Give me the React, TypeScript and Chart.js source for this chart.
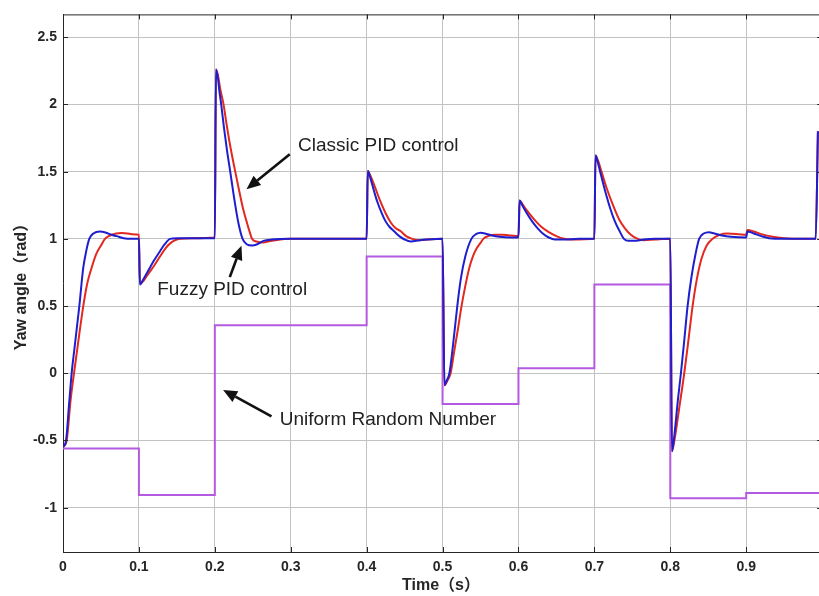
import React, { useEffect, useRef } from 'react';
import { Chart, registerables } from 'chart.js';

Chart.register(...registerables);

// ---- Data ----
const fuzzyPID: [number, number][] = [
  [0, -0.55], [0.004, -0.5], [0.008, -0.23], [0.0114, 0.0], [0.015, 0.18], [0.0215, 0.5], [0.0267, 0.785],
  [0.031, 0.92], [0.0346, 1.0], [0.04, 1.04], [0.0487, 1.055], [0.057, 1.045], [0.064, 1.03], [0.0707, 1.02],
  [0.08, 1.005], [0.09, 1.0], [0.1, 1.0],
  [0.1013, 0.66], [0.105, 0.69], [0.11, 0.74], [0.115, 0.79], [0.12, 0.84], [0.128, 0.91], [0.134, 0.96],
  [0.141, 1.0], [0.15, 1.005], [0.2, 1.005],
  [0.2015, 2.26], [0.204, 2.2], [0.206, 2.1], [0.2084, 2.0], [0.212, 1.83], [0.216, 1.66], [0.2203, 1.5],
  [0.225, 1.32], [0.231, 1.12], [0.2366, 1.0], [0.242, 0.96], [0.249, 0.95], [0.256, 0.96], [0.264, 0.985],
  [0.275, 0.995], [0.3, 1.0], [0.4, 1.0],
  [0.4015, 1.505], [0.405, 1.45], [0.41, 1.35], [0.4138, 1.28], [0.42, 1.19], [0.425, 1.13], [0.43, 1.09],
  [0.4358, 1.058], [0.443, 1.02], [0.45, 0.995], [0.458, 0.98], [0.47, 0.99], [0.48, 0.995], [0.5, 1.0],
  [0.5025, -0.09], [0.505, -0.06], [0.509, 0.0], [0.514, 0.22], [0.5194, 0.5], [0.524, 0.7], [0.53, 0.87],
  [0.538, 1.0], [0.544, 1.035], [0.55, 1.045], [0.556, 1.04], [0.565, 1.025], [0.575, 1.015], [0.59, 1.01],
  [0.6, 1.01],
  [0.6015, 1.285], [0.605, 1.25], [0.61, 1.2], [0.618, 1.13], [0.625, 1.08], [0.632, 1.04], [0.64, 1.01],
  [0.648, 0.995], [0.66, 0.995], [0.68, 1.0], [0.7, 1.0],
  [0.7015, 1.62], [0.704, 1.58], [0.7076, 1.5], [0.714, 1.36], [0.7207, 1.23], [0.727, 1.13], [0.733, 1.06],
  [0.739, 1.0], [0.745, 0.985], [0.752, 0.985], [0.765, 0.995], [0.78, 1.0], [0.8, 1.0],
  [0.8022, -0.58], [0.805, -0.48], [0.81, -0.2], [0.814, 0.0], [0.818, 0.22], [0.8228, 0.5], [0.828, 0.72],
  [0.833, 0.88], [0.838, 1.0], [0.844, 1.04], [0.851, 1.05], [0.858, 1.04], [0.868, 1.025], [0.88, 1.015],
  [0.9, 1.01],
  [0.9015, 1.055], [0.91, 1.04], [0.92, 1.02], [0.93, 1.005], [0.95, 1.0], [0.9915, 1.0], [0.9945, 1.8],
];

const classicPID: [number, number][] = [
  [0, -0.55], [0.0048, -0.5], [0.01, -0.2], [0.0145, 0.0], [0.02, 0.23], [0.0267, 0.5], [0.032, 0.67],
  [0.0377, 0.785], [0.044, 0.89], [0.05, 0.95], [0.0553, 1.0], [0.062, 1.025], [0.07, 1.04], [0.0772, 1.043],
  [0.085, 1.04], [0.0908, 1.035], [0.1, 1.03],
  [0.1013, 0.665], [0.105, 0.68], [0.11, 0.72], [0.115, 0.76], [0.12, 0.8], [0.128, 0.87], [0.135, 0.93],
  [0.142, 0.97], [0.148, 0.99], [0.154, 1.0], [0.17, 1.005], [0.2, 1.01],
  [0.2015, 2.26], [0.204, 2.22], [0.207, 2.12], [0.2115, 2.0], [0.215, 1.87], [0.22, 1.7], [0.2269, 1.5],
  [0.232, 1.36], [0.237, 1.23], [0.2423, 1.12], [0.246, 1.05], [0.249, 1.0], [0.255, 0.98], [0.262, 0.972],
  [0.27, 0.98], [0.28, 0.99], [0.3, 1.0], [0.4, 1.0],
  [0.4015, 1.505], [0.405, 1.47], [0.41, 1.4], [0.418, 1.28], [0.425, 1.19], [0.432, 1.12], [0.438, 1.08],
  [0.4446, 1.058], [0.452, 1.02], [0.46, 1.0], [0.47, 0.99], [0.48, 0.995], [0.5, 1.0],
  [0.5025, -0.09], [0.506, -0.06], [0.5106, 0.0], [0.515, 0.15], [0.52, 0.32], [0.525, 0.5], [0.53, 0.65],
  [0.535, 0.78], [0.54, 0.87], [0.545, 0.93], [0.55, 0.97], [0.5537, 1.0], [0.56, 1.02], [0.57, 1.03],
  [0.58, 1.03], [0.59, 1.025], [0.6, 1.02],
  [0.6015, 1.285], [0.605, 1.26], [0.61, 1.22], [0.623, 1.13], [0.63, 1.09], [0.64, 1.05], [0.65, 1.02],
  [0.66, 1.0], [0.67, 0.995], [0.7, 1.0],
  [0.7015, 1.62], [0.705, 1.58], [0.7094, 1.5], [0.716, 1.38], [0.726, 1.23], [0.733, 1.14], [0.74, 1.08],
  [0.748, 1.03], [0.757, 1.0], [0.765, 0.99], [0.78, 0.995], [0.8, 1.0],
  [0.8022, -0.58], [0.806, -0.48], [0.812, -0.25], [0.8184, 0.0], [0.824, 0.25], [0.8294, 0.5], [0.835, 0.7],
  [0.841, 0.85], [0.848, 0.95], [0.8557, 1.0], [0.865, 1.03], [0.875, 1.04], [0.89, 1.035], [0.9, 1.03],
  [0.9015, 1.065], [0.91, 1.055], [0.92, 1.035], [0.935, 1.015], [0.95, 1.005], [0.97, 1.0], [0.9915, 1.0],
  [0.9945, 1.8],
];

const randomTime = [0, 0.1, 0.2, 0.3, 0.4, 0.5, 0.6, 0.7, 0.8, 0.9, 1.0];
const randomValue = [-0.56, -0.906, 0.357, 0.357, 0.868, -0.229, 0.037, 0.661, -0.93, -0.891, -0.891];

const xTickValues = [0, 0.1, 0.2, 0.3, 0.4, 0.5, 0.6, 0.7, 0.8, 0.9, 1];
const xTickLabels = ['0', '0.1', '0.2', '0.3', '0.4', '0.5', '0.6', '0.7', '0.8', '0.9', '1'];
const yTickValues = [-1, -0.5, 0, 0.5, 1, 1.5, 2, 2.5];
const yTickLabels = ['-1', '-0.5', '0', '0.5', '1', '1.5', '2', '2.5'];

const seriesNames = ['Fuzzy PID control', 'Classic PID control', 'Uniform Random Number'];
const xTitle = 'Time（s）';
const yTitle = 'Yaw angle（rad）';

// annotation texts with anchor positions in data coordinates
const annotationTexts = ['Classic PID control', 'Fuzzy PID control', 'Uniform Random Number'];
const annotationAnchors = [
  { tx: 0.3096, ty: 1.652, from: [0.2987, 1.63], to: [0.2417, 1.369] },
  { tx: 0.1241, ty: 0.583, from: [0.2197, 0.715], to: [0.2351, 0.949] },
  { tx: 0.2855, ty: -0.3825, from: [0.2746, -0.321], to: [0.2109, -0.124] },
];

const FONT = "'Liberation Sans', Arial, 'Noto Sans CJK SC', sans-serif";
const AXIS_COLOR = '#262626';

function drawArrow(ctx: CanvasRenderingContext2D, x1: number, y1: number, x2: number, y2: number) {
  const ang = Math.atan2(y2 - y1, x2 - x1);
  const headLen = 14;
  const headW = 6;
  const bx = x2 - headLen * Math.cos(ang);
  const by = y2 - headLen * Math.sin(ang);
  ctx.save();
  ctx.strokeStyle = '#111';
  ctx.fillStyle = '#111';
  ctx.lineWidth = 2.6;
  ctx.beginPath();
  ctx.moveTo(x1, y1);
  ctx.lineTo(bx, by);
  ctx.stroke();
  ctx.beginPath();
  ctx.moveTo(x2, y2);
  ctx.lineTo(bx + headW * Math.sin(ang), by - headW * Math.cos(ang));
  ctx.lineTo(bx - headW * Math.sin(ang), by + headW * Math.cos(ang));
  ctx.closePath();
  ctx.fill();
  ctx.restore();
}

const framePlugin = {
  id: 'framePlugin',
  afterDraw(chart: any) {
    const { ctx, chartArea, scales } = chart;
    const { left, right, top, bottom } = chartArea;
    const xs = scales.x;
    const ys = scales.y;
    ctx.save();
    // box
    ctx.strokeStyle = AXIS_COLOR;
    ctx.lineWidth = 1;
    ctx.beginPath();
    ctx.moveTo(left, top + 0.5);
    ctx.lineTo(right, top + 0.5);
    ctx.moveTo(right - 0.5, top);
    ctx.lineTo(right - 0.5, bottom);
    ctx.stroke();
    // inward ticks
    ctx.beginPath();
    xTickValues.forEach((v) => {
      const px = Math.round(xs.getPixelForValue(v)) + 0.5;
      ctx.moveTo(px, bottom);
      ctx.lineTo(px, bottom - 5);
      ctx.moveTo(px, top);
      ctx.lineTo(px, top + 5);
    });
    yTickValues.forEach((v) => {
      const py = Math.round(ys.getPixelForValue(v)) + 0.5;
      ctx.moveTo(left, py);
      ctx.lineTo(left + 5, py);
      ctx.moveTo(right, py);
      ctx.lineTo(right - 5, py);
    });
    ctx.stroke();

    // axis titles
    ctx.fillStyle = AXIS_COLOR;
    ctx.font = `bold 16px ${FONT}`;
    ctx.textAlign = 'center';
    ctx.textBaseline = 'alphabetic';
    ctx.fillText(xTitle, 441, 590);
    ctx.save();
    ctx.translate(26, 283);
    ctx.rotate(-Math.PI / 2);
    ctx.fillText(yTitle, 0, 0);
    ctx.restore();

    // annotations
    ctx.font = `19px ${FONT}`;
    ctx.textAlign = 'left';
    ctx.fillStyle = '#222';
    annotationTexts.forEach((txt, i) => {
      const a = annotationAnchors[i];
      ctx.fillText(txt, xs.getPixelForValue(a.tx), ys.getPixelForValue(a.ty));
      drawArrow(
        ctx,
        xs.getPixelForValue(a.from[0]),
        ys.getPixelForValue(a.from[1]),
        xs.getPixelForValue(a.to[0]),
        ys.getPixelForValue(a.to[1])
      );
    });
    ctx.restore();
  },
};

export default function App() {
  const ref = useRef<HTMLCanvasElement>(null);

  useEffect(() => {
    const canvas = ref.current;
    if (!canvas) return;
    const tickFont = { family: FONT, size: 14, weight: 'bold' as const };
    const chart = new Chart(canvas, {
      type: 'scatter',
      data: {
        datasets: [
          {
            label: seriesNames[0],
            data: fuzzyPID.map(([x, y]) => ({ x, y })),
            showLine: true,
            borderColor: '#1e1ecf',
            borderWidth: 2,
            pointRadius: 0,
            cubicInterpolationMode: 'monotone',
          },
          {
            label: seriesNames[1],
            data: classicPID.map(([x, y]) => ({ x, y })),
            showLine: true,
            borderColor: '#e2281f',
            borderWidth: 2,
            pointRadius: 0,
            cubicInterpolationMode: 'monotone',
          },
          {
            label: seriesNames[2],
            data: randomTime.map((x, i) => ({ x, y: randomValue[i] })),
            showLine: true,
            stepped: 'before',
            borderColor: '#b45ae0',
            borderWidth: 2,
            pointRadius: 0,
          },
        ],
      },
      options: {
        responsive: false,
        animation: false,
        events: [],
        layout: { padding: { top: 12, right: 7, left: 0, bottom: 0 } },
        plugins: { legend: { display: false }, tooltip: { enabled: false } },
        scales: {
          x: {
            type: 'linear',
            min: 0,
            max: 1,
            afterBuildTicks: (s: any) => {
              s.ticks = xTickValues.map((v) => ({ value: v }));
            },
            afterFit: (s: any) => {
              s.height = 44;
            },
            ticks: {
              autoSkip: false,
              maxRotation: 0,
              padding: 7,
              color: AXIS_COLOR,
              font: tickFont,
              callback: (v: any) => xTickLabels[xTickValues.indexOf(v)] ?? '',
            },
            grid: { color: '#c2c2c2', lineWidth: 1, drawTicks: false },
            border: { display: true, color: AXIS_COLOR, width: 1 },
          },
          y: {
            type: 'linear',
            min: -1.33,
            max: 2.67,
            afterBuildTicks: (s: any) => {
              s.ticks = yTickValues.map((v) => ({ value: v }));
            },
            afterFit: (s: any) => {
              s.width = 63;
            },
            ticks: {
              autoSkip: false,
              padding: 6,
              color: AXIS_COLOR,
              font: tickFont,
              callback: (v: any) => yTickLabels[yTickValues.indexOf(v)] ?? '',
            },
            grid: { color: '#c2c2c2', lineWidth: 1, drawTicks: false },
            border: { display: true, color: AXIS_COLOR, width: 1 },
          },
        },
      },
      plugins: [framePlugin],
    } as any);
    return () => chart.destroy();
  }, []);

  return (
    <div
      style={{
        position: 'fixed',
        left: 0,
        top: 0,
        width: 819,
        height: 596,
        overflow: 'hidden',
        background: '#ffffff',
      }}
    >
      <canvas ref={ref} width={833} height={596} style={{ display: 'block' }} />
    </div>
  );
}
